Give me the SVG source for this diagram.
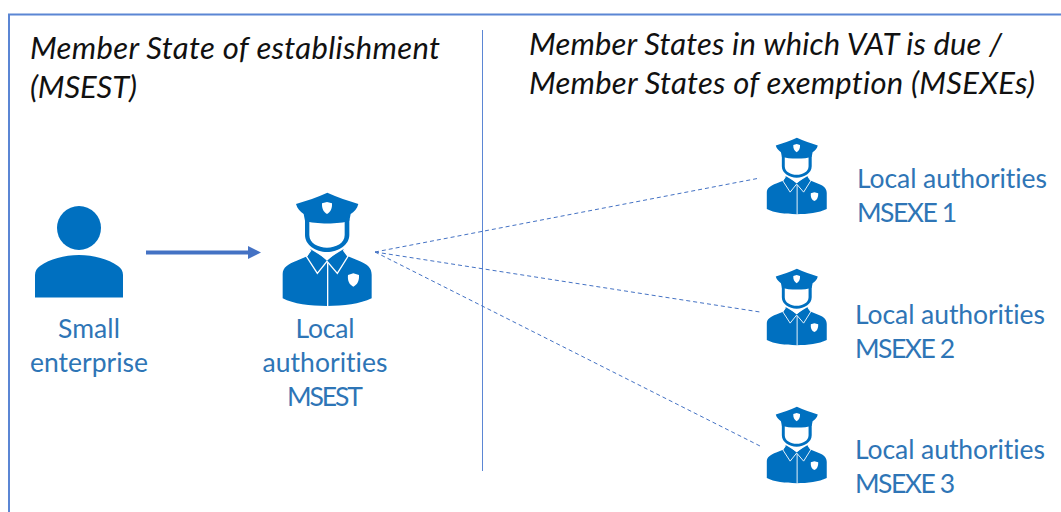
<svg xmlns="http://www.w3.org/2000/svg" width="1061" height="512" viewBox="0 0 1061 512">
<style>
text{font-family:"Lato","Carlito","Open Sans",sans-serif}
.h{font-size:31px;font-style:italic;fill:#111;font-variant-ligatures:none}
.l{font-size:26.500px;fill:#2e75b6;font-variant-ligatures:none}
.c{text-anchor:middle}
.d{fill:none;stroke:#4472c4;stroke-width:1;stroke-dasharray:4 3}
.ib{fill:#0070c0}
.iw{fill:#fff}
.is{fill:none;stroke:#fff;stroke-width:4}
</style>
<defs>
<marker id="ah" markerWidth="14" markerHeight="14" refX="2" refY="6.500" orient="auto" markerUnits="userSpaceOnUse"><path d="M0 0L13 6.500L0 13Z" fill="#4472c4"/></marker>
<symbol id="cop" viewBox="60 30 285 355" overflow="visible">
<path class="ib" d="M202 38C232 52 265 62 295 72C292 86 282 96 272 102L268 122C240 133 165 133 135 122L131 102C120 94 112 86 108 72C140 62 172 52 202 38Z"/>
<path class="iw" d="M186 70L201 66L216 70C217 86 211 97 201 102C191 97 185 86 186 70Z"/>
<path class="ib" d="M135 118H148V165C148 190 175 203 201 203C227 203 254 190 254 165V118H268V165C268 195 235 216 201 216C167 216 135 195 135 165Z"/>
<path class="ib" d="M68 355V282C68 262 84 252 110 242L143 228L152 208L201 238L250 208L262 228L300 244C322 253 335 264 335 284V355C300 372 250 378 201 378C150 378 100 372 68 355Z"/>
<path class="iw" d="M168 214L201 242L234 214C222 219 212 220 201 220C190 220 178 219 168 214Z"/>
<path class="is" d="M153 210L139 229L172 280L201 244L232 280L264 229L250 210"/>
<path class="is" d="M203 248V380"/>
<path class="iw" d="M264 285L280 280L297 285C298 303 292 314 280 320C268 314 262 303 264 285Z"/>
</symbol>
</defs>
<rect width="1061" height="512" fill="#fff"/>
<path d="M9 512V14.500H1061" fill="none" stroke="#5b86d4" stroke-width="2"/>
<path d="M482.500 30V471" fill="none" stroke="#5b86d4" stroke-width="1"/>
<g id="connectors">
<path d="M146 252.500H250" stroke="#4472c4" stroke-width="4" fill="none" marker-end="url(#ah)"/>
<path class="d" d="M375 252L760 178"/>
<path class="d" d="M375 252L760 312"/>
<path class="d" d="M375 252L760 446"/>
</g>
<g id="title-left"><text class="h" x="30" y="59" textLength="410">Member State of establishment</text><text class="h" x="30" y="98" textLength="107">(MSEST)</text></g>
<g id="title-right"><text class="h" x="529" y="55" textLength="473">Member States in which VAT is due /</text><text class="h" x="529" y="94" textLength="506">Member States of exemption (MSEXEs)</text></g>
<g id="small-enterprise">
<circle class="ib" cx="79" cy="228" r="22"/>
<path class="ib" d="M35 297.500V275C35 271 37 268 40 266C50 259 64 255 79 255C94 255 108 259 118 266C121 268 123 271 123 275V297.500Z"/>
<text class="l c" x="89" y="338" textLength="62">Small</text><text class="l c" x="89" y="372" textLength="118">enterprise</text>
</g>
<g id="local-msest">
<use href="#cop" x="280" y="190" width="95" height="118.400"/>
<text class="l c" x="325" y="338" textLength="59">Local</text><text class="l c" x="325" y="372" textLength="125">authorities</text><text class="l c" x="325" y="406" textLength="76">MSEST</text>
</g>
<g id="local-msexe-1">
<use href="#cop" x="765" y="136" width="64" height="79.700"/>
<text class="l" x="857" y="188" textLength="190">Local authorities</text><text class="l" x="857" y="222" textLength="100">MSEXE 1</text>
</g>
<g id="local-msexe-2">
<use href="#cop" x="765" y="267" width="64" height="79.700"/>
<text class="l" x="855" y="324" textLength="190">Local authorities</text><text class="l" x="855" y="358" textLength="100">MSEXE 2</text>
</g>
<g id="local-msexe-3">
<use href="#cop" x="765" y="405" width="64" height="79.700"/>
<text class="l" x="855" y="459" textLength="190">Local authorities</text><text class="l" x="855" y="493" textLength="100">MSEXE 3</text>
</g>
</svg>
